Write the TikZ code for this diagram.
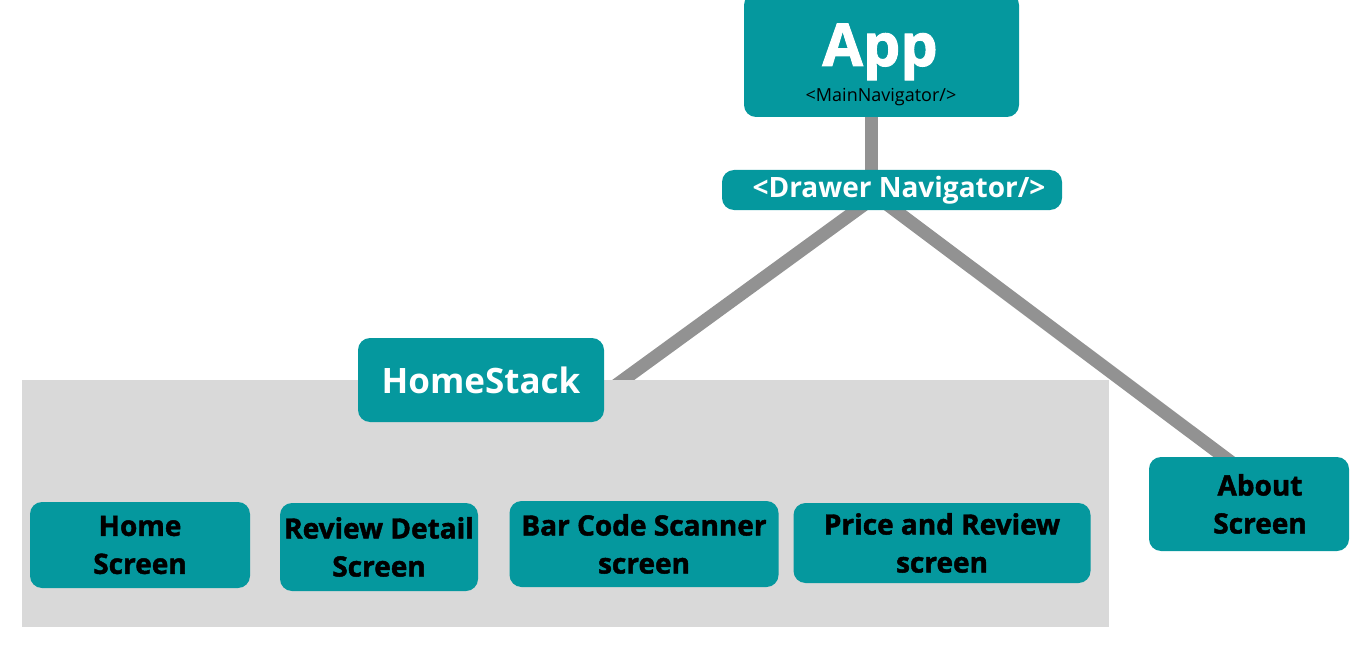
\documentclass[tikz,border=0pt]{standalone}
\usepackage{fontspec}
\setmainfont{Open Sans}
\newfontfamily\heavyfont{Open Sans}[BoldFeatures={FakeBold=1.6}]
\definecolor{navteal}{HTML}{05989E}
\definecolor{linkgray}{HTML}{929292}
\definecolor{stackgray}{HTML}{D9D9D9}
\pgfdeclarelayer{links}
\pgfdeclarelayer{stack}
\pgfsetlayers{links,stack,main}
\tikzset{
  navbox/.style={fill=navteal, rounded corners=12pt, inner sep=0pt, align=center},
  screenbox/.style={navbox, text=black, font=\heavyfont\bfseries\fontsize{28}{38}\selectfont},
  link/.style={draw=linkgray, line width=13pt},
}
\begin{document}
\begin{tikzpicture}[x=1pt,y=-1pt]
      \useasboundingbox (0,0) rectangle (1350,650);
      % Define nodes
      \node[navbox, minimum width=275pt, minimum height=124pt] (app) at (881.5,55) {};
      \node[anchor=base, text=white, font=\heavyfont\bfseries\fontsize{59}{60}\selectfont] (apptitle) at (880,66) {App};
      \node[anchor=base, font=\fontsize{18}{20}\selectfont] (appsub) at (881,102) {<MainNavigator/>};
      \node[navbox, minimum width=340pt, minimum height=40pt, text=white,
            font=\bfseries\fontsize{28}{30}\selectfont] (drawer) at (892,190) {\hspace*{14pt}<Drawer Navigator/>};
      \node[navbox, minimum width=246pt, minimum height=84pt, text=white,
            font=\bfseries\fontsize{35}{40}\selectfont] (homestack) at (481,380) {HomeStack};
      \node[screenbox, minimum width=220pt, minimum height=86pt] (home) at (140,545) {Home\\Screen};
      \node[screenbox, minimum width=198pt, minimum height=88pt] (review) at (379,547) {Review Detail\\Screen};
      \node[screenbox, minimum width=269pt, minimum height=86pt] (barcode) at (644,544) {Bar Code Scanner\\screen};
      \node[screenbox, minimum width=297pt, minimum height=80pt] (price) at (942,543) {\raisebox{-4pt}{Price and Review}\\[4pt]screen};
      \node[screenbox, minimum width=200pt, minimum height=94pt] (about) at (1249,504) {\hspace*{22pt}About\\\hspace*{22pt}Screen};
      % Grey area of the stack
      \begin{pgfonlayer}{stack}
        \fill[stackgray] (22,380) rectangle (1109,627);
      \end{pgfonlayer}
      % Connect nodes
      \begin{pgfonlayer}{links}
        \draw[link] (871,0 |- app.center) -- (871,0 |- drawer.center);
        \draw[link, shorten >=-12pt] ([xshift=-16pt,yshift=-6pt]drawer.center) -- ([xshift=19pt]homestack.east);
        \draw[link, shorten >=-12pt] ([xshift=-16pt,yshift=-6pt]drawer.center) -- ([xshift=-25pt]about.north);
      \end{pgfonlayer}
    \end{tikzpicture}
\end{document}
